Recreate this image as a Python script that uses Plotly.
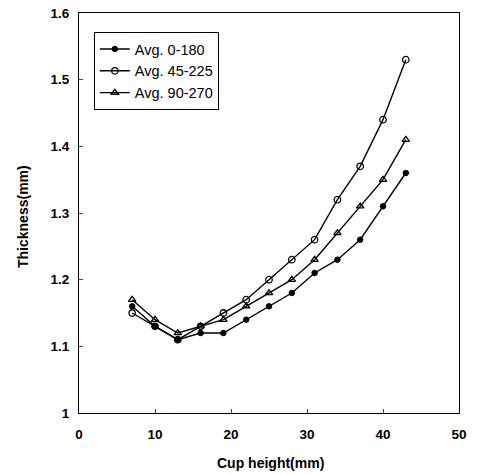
import plotly.graph_objects as go

cup_height = [7, 10, 13, 16, 19, 22, 25, 28, 31, 34, 37, 40, 43]
avg_0_180 = [1.16, 1.13, 1.11, 1.12, 1.12, 1.14, 1.16, 1.18, 1.21, 1.23, 1.26, 1.31, 1.36]
avg_45_225 = [1.15, 1.13, 1.11, 1.13, 1.15, 1.17, 1.20, 1.23, 1.26, 1.32, 1.37, 1.44, 1.53]
avg_90_270 = [1.17, 1.14, 1.12, 1.13, 1.14, 1.16, 1.18, 1.20, 1.23, 1.27, 1.31, 1.35, 1.41]

x_ticks = [0, 10, 20, 30, 40, 50]
y_ticks = [1, 1.1, 1.2, 1.3, 1.4, 1.5, 1.6]
y_tick_labels = ["1", "1.1", "1.2", "1.3", "1.4", "1.5", "1.6"]
x_title = "Cup height(mm)"
y_title = "Thickness(mm)"

series = [
    ("Avg. 0-180", avg_0_180, dict(symbol="circle", size=5.5, color="black",
                                   line=dict(color="black", width=1))),
    ("Avg. 45-225", avg_45_225, dict(symbol="circle-open", size=6.5, color="black",
                                     line=dict(color="black", width=1.3))),
    ("Avg. 90-270", avg_90_270, dict(symbol="triangle-up-open", size=6.5, color="black",
                                     line=dict(color="black", width=1.3))),
]

fig = go.Figure()
for name, vals, marker in series:
    fig.add_trace(go.Scatter(
        x=cup_height, y=vals, name=name, mode="lines+markers",
        line=dict(color="black", width=1.4), marker=marker,
    ))

font_family = "Liberation Sans, Arial, sans-serif"
title_font = dict(family=font_family, size=14, color="black", weight="bold")
fig.update_layout(
    width=479, height=474,
    margin=dict(l=79, r=20, t=13, b=61, autoexpand=False),
    paper_bgcolor="white", plot_bgcolor="white",
    font=dict(family=font_family, color="black", size=13),
    showlegend=True,
    legend=dict(
        x=0.039, y=0.9525, xanchor="left", yanchor="top",
        bordercolor="black", borderwidth=1, bgcolor="white",
        font=dict(family=font_family, size=14.5, color="black"),
        itemwidth=30,
    ),
    xaxis=dict(
        range=[0, 50], tickvals=x_ticks, ticks="inside", ticklen=4,
        ticklabelstandoff=9,
        showline=True, linecolor="black", linewidth=1.2, mirror=True,
        showgrid=False, zeroline=False, automargin=False,
        tickfont=dict(family=font_family, size=13.5, color="black", weight="bold"),
    ),
    yaxis=dict(
        range=[1, 1.6], tickvals=y_ticks, ticktext=y_tick_labels,
        ticks="inside", ticklen=4, ticklabelstandoff=6,
        showline=True, linecolor="black", linewidth=1.2, mirror=True,
        showgrid=False, zeroline=False, automargin=False,
        tickfont=dict(family=font_family, size=13.5, color="black", weight="bold"),
    ),
    annotations=[
        dict(text=x_title, xref="paper", yref="paper", x=0.503, y=0,
             xanchor="center", yanchor="middle", yshift=-50, showarrow=False,
             font=title_font),
        dict(text=y_title, xref="paper", yref="paper", x=0, y=0.49,
             xanchor="center", yanchor="middle", xshift=-56, textangle=-90,
             showarrow=False, font=title_font),
    ],
)

fig.write_html("out.html")
